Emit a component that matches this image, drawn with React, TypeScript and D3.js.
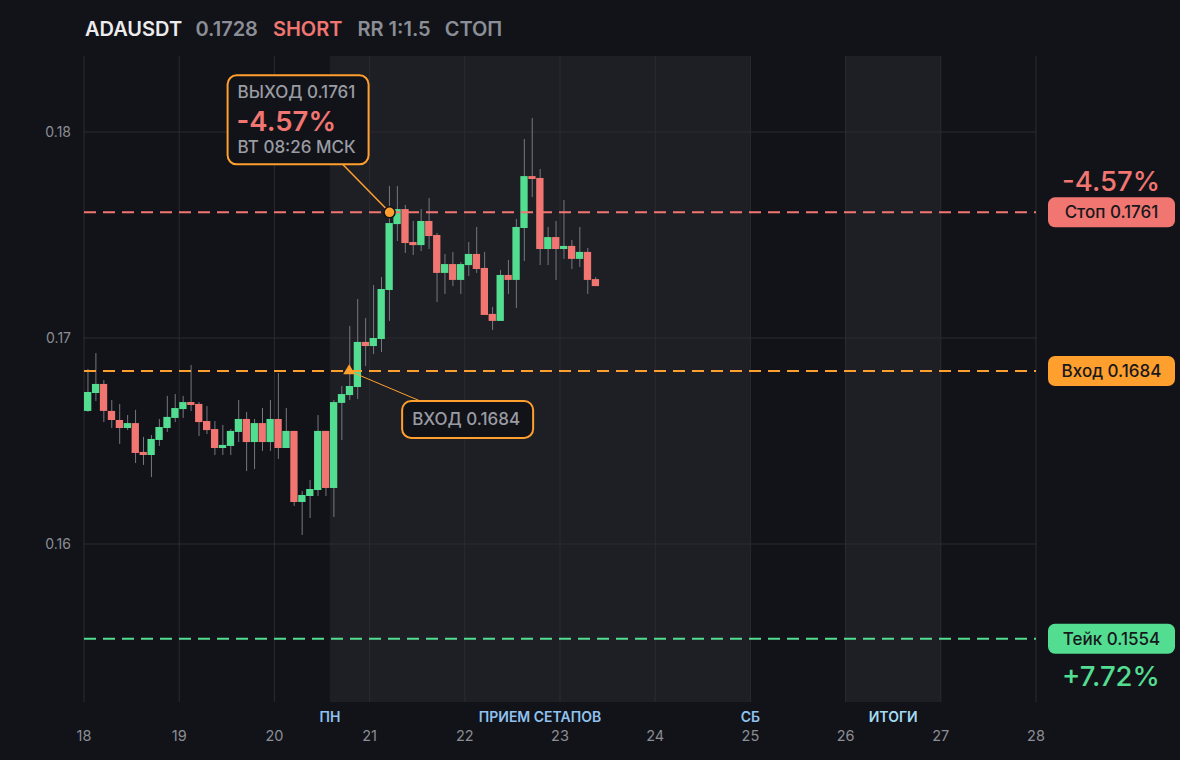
import React from 'react'
import * as d3 from 'd3'

// header
const symbol = 'ADAUSDT'
const lastPrice = '0.1728'
const side = 'SHORT'
const rrText = 'RR 1:1.5'
const statusText = 'СТОП'

// 2h candles starting on the 18th
const startDay = 18
const candlesPerDay = 12
const opens = [
  0.16646, 0.16733, 0.16777, 0.16646, 0.16602, 0.16563, 0.16587, 0.16447, 0.16432, 0.16505,
  0.16563, 0.16612, 0.16655, 0.16689, 0.1668, 0.16597, 0.16558, 0.16466, 0.16476, 0.16544,
  0.16607, 0.16495, 0.16587, 0.16495, 0.16607, 0.16466, 0.16549, 0.16204, 0.16233, 0.16262,
  0.16549, 0.16272, 0.16685, 0.16723, 0.16762, 0.16981, 0.16961, 0.16995, 0.17233, 0.17553,
  0.17626, 0.17466, 0.17451, 0.17568, 0.175, 0.17316, 0.17359, 0.17282, 0.17354, 0.17408,
  0.1734, 0.17117, 0.17083, 0.17306, 0.17282, 0.17534, 0.17786, 0.17777, 0.17432, 0.1749,
  0.17432, 0.17447, 0.17384, 0.17418, 0.17286,
]
const highs = [
  0.1685, 0.16927, 0.16796, 0.16699, 0.1668, 0.16626, 0.16651, 0.1652, 0.16529, 0.16607,
  0.16719, 0.16728, 0.16719, 0.16869, 0.16689, 0.1667, 0.16597, 0.16578, 0.16558, 0.16699,
  0.16641, 0.16607, 0.1666, 0.16699, 0.1683, 0.1666, 0.16549, 0.16257, 0.16311, 0.16626,
  0.16549, 0.16699, 0.16767, 0.17058, 0.17189, 0.17097, 0.17257, 0.17296, 0.17738, 0.17738,
  0.17646, 0.17568, 0.17626, 0.1768, 0.1751, 0.17408, 0.17418, 0.17369, 0.17466, 0.17539,
  0.17418, 0.17151, 0.1733, 0.17379, 0.17578, 0.17966, 0.18068, 0.1782, 0.17539, 0.17568,
  0.1767, 0.17476, 0.17539, 0.17437, 0.17296,
]
const lows = [
  0.16641, 0.16694, 0.16592, 0.16563, 0.16486, 0.16553, 0.16393, 0.16384, 0.16325, 0.16476,
  0.16544, 0.16592, 0.16612, 0.16646, 0.16524, 0.16534, 0.16432, 0.16432, 0.16432, 0.16495,
  0.16354, 0.16364, 0.16452, 0.16452, 0.16413, 0.16466, 0.16185, 0.16044, 0.16126, 0.16233,
  0.16233, 0.16131, 0.16505, 0.16699, 0.16704, 0.16864, 0.16922, 0.16932, 0.17083, 0.17471,
  0.17413, 0.17403, 0.17422, 0.17432, 0.17175, 0.17214, 0.17252, 0.17214, 0.17301, 0.17316,
  0.17112, 0.17039, 0.17083, 0.17214, 0.17146, 0.17374, 0.17684, 0.17354, 0.17354, 0.17282,
  0.17384, 0.17335, 0.17345, 0.17214, 0.17252,
]
const closes = [
  0.16738, 0.16777, 0.16646, 0.16602, 0.16563, 0.16587, 0.16442, 0.16432, 0.1651, 0.16568,
  0.16617, 0.1666, 0.16689, 0.16675, 0.16592, 0.16553, 0.16466, 0.16481, 0.16549, 0.16607,
  0.16495, 0.16587, 0.16495, 0.16607, 0.16466, 0.16549, 0.16204, 0.16238, 0.16267, 0.16549,
  0.16272, 0.16689, 0.16728, 0.16767, 0.16981, 0.16961, 0.17, 0.17238, 0.17558, 0.17626,
  0.17461, 0.17451, 0.17568, 0.17495, 0.17316, 0.17359, 0.17282, 0.17359, 0.17408, 0.17335,
  0.17112, 0.17083, 0.17306, 0.17282, 0.17539, 0.17786, 0.17772, 0.17432, 0.1749, 0.17432,
  0.17447, 0.17384, 0.17418, 0.17282, 0.17252,
]

// axes
const dayTicks = [18, 19, 20, 21, 22, 23, 24, 25, 26, 27, 28]
const priceTicks = [0.16, 0.17, 0.18]
const priceDomain = [0.15233, 0.18369]

// sessions
const shadeStarts = [20.583, 26]
const shadeEnds = [25, 27]
const sessionLabels = ['ПН', 'ПРИЕМ СЕТАПОВ', 'СБ', 'ИТОГИ']
const sessionDays = [20.583, 22.79, 25, 26.5]

// trade
const entryPrice = 0.1684
const stopPrice = 0.1761
const takePrice = 0.1554
const entryDay = 20.785
const exitDay = 21.21
const stopPct = '-4.57%'
const takePct = '+7.72%'
const exitTimeText = 'ВТ 08:26 МСК'

const W = 1180
const H = 760
const BG = '#121318'
const SHADE = '#1e1f24'
const GRID = '#2a2b31'
const TXT = '#8b8e96'
const GREEN = '#52dd91'
const RED = '#f17571'
const ORANGE = '#ff9f2e'
const FONT = "Inter, 'Noto Sans', sans-serif"

export default function App() {
  const x = d3.scaleLinear().domain([18, 28]).range([84, 1036])
  const y = d3.scaleLinear().domain(priceDomain).range([702, 56])
  const step = x(startDay + 1 / candlesPerDay) - x(startDay)
  const [plotTop, plotBottom] = [y.range()[1], y.range()[0]]

  const candles = opens.map((o, i) => {
    const t = startDay + i / candlesPerDay
    const c = closes[i]
    const up = c >= o
    const x0 = x(t)
    const top = y(Math.max(o, c))
    const h = Math.max(2, y(Math.min(o, c)) - top)
    return (
      <g key={i}>
        <line x1={x0 + step / 2} x2={x0 + step / 2} y1={y(highs[i])} y2={y(lows[i])} stroke="#767880" strokeWidth={1} />
        <rect x={x0} y={top} width={step - 0.6} height={h} fill={up ? GREEN : RED} />
      </g>
    )
  })

  const levels = [
    { price: stopPrice, color: RED, label: `Стоп ${stopPrice}` },
    { price: entryPrice, color: ORANGE, label: `Вход ${entryPrice}` },
    { price: takePrice, color: GREEN, label: `Тейк ${takePrice}` },
  ]

  const dotX = x(exitDay)
  const dotY = y(stopPrice)
  const triX = x(entryDay)
  const triY = y(entryPrice)
  const exitBox = { x: dotX - 162, y: dotY - 137, w: 141, h: 89 }
  const entryBox = { x: triX + 53, y: triY + 30, w: 131, h: 37 }

  return (
    <svg width={W} height={H} style={{ position: 'absolute', left: 0, top: 0 }} fontFamily={FONT}>
      <rect width={W} height={H} fill={BG} />

      {shadeStarts.map((s, i) => (
        <rect key={i} x={x(s)} y={plotTop} width={x(shadeEnds[i]) - x(s)} height={plotBottom - plotTop} fill={SHADE} />
      ))}

      {dayTicks.map((d) => (
        <line key={d} x1={x(d)} x2={x(d)} y1={plotTop} y2={plotBottom} stroke={GRID} strokeWidth={1} />
      ))}
      {priceTicks.map((p) => (
        <g key={p}>
          <line x1={x(18)} x2={x(28)} y1={y(p)} y2={y(p)} stroke={GRID} strokeWidth={1} />
          <text x={71} y={y(p) + 5} textAnchor="end" fontSize={14} fill={TXT}>{p}</text>
        </g>
      ))}

      {dayTicks.map((d) => (
        <text key={d} x={x(d)} y={741} textAnchor="middle" fontSize={14.5} fill={TXT}>{d}</text>
      ))}
      {sessionLabels.map((s, i) => (
        <text key={s} x={x(sessionDays[i])} y={722} textAnchor="middle" fontSize={14} fontWeight={600}
          fill={s === 'ИТОГИ' ? '#a3dcf3' : '#8fc2f0'}>{s}</text>
      ))}

      {candles}

      {levels.map((l) => (
        <g key={l.label}>
          <line x1={x(18)} x2={x(28)} y1={y(l.price)} y2={y(l.price)} stroke={l.color} strokeWidth={2} strokeDasharray="12 7" />
          <rect x={1048} y={y(l.price) - 15} width={127} height={30} rx={7} fill={l.color} />
          <text x={1111.5} y={y(l.price) + 6} textAnchor="middle" fontSize={17} fontWeight={500} fill="#17181c">{l.label}</text>
        </g>
      ))}
      <text x={1111} y={y(stopPrice) - 21} textAnchor="middle" fontSize={27.5} fontWeight={500} fill={RED}>{stopPct}</text>
      <text x={1111} y={y(takePrice) + 47} textAnchor="middle" fontSize={27.5} fontWeight={500} fill={GREEN}>{takePct}</text>

      {/* exit callout */}
      <line x1={exitBox.x + 115} y1={exitBox.y + exitBox.h} x2={dotX} y2={dotY} stroke={ORANGE} strokeWidth={1.5} />
      <rect x={exitBox.x} y={exitBox.y} width={exitBox.w} height={exitBox.h} rx={9} fill={BG} stroke={ORANGE} strokeWidth={2} />
      <text x={exitBox.x + 10} y={exitBox.y + 23} fontSize={17} fontWeight={500} fill="#9a9ca4">{`ВЫХОД ${stopPrice}`}</text>
      <text x={exitBox.x + 9} y={exitBox.y + 56} fontSize={27.5} fontWeight={600} fill={RED}>{stopPct}</text>
      <text x={exitBox.x + 10} y={exitBox.y + 78} fontSize={17} fontWeight={500} fill="#9a9ca4">{exitTimeText}</text>
      <circle cx={dotX} cy={dotY} r={5.5} fill={ORANGE} stroke={BG} strokeWidth={1.5} />

      {/* entry callout */}
      <line x1={triX} y1={triY} x2={entryBox.x + 18} y2={entryBox.y} stroke={ORANGE} strokeWidth={1} />
      <rect x={entryBox.x} y={entryBox.y} width={entryBox.w} height={entryBox.h} rx={9} fill={BG} stroke={ORANGE} strokeWidth={2} />
      <text x={entryBox.x + 10} y={entryBox.y + 24} fontSize={17} fontWeight={500} fill="#9a9ca4">{`ВХОД ${entryPrice}`}</text>
      <path d={d3.symbol(d3.symbolTriangle, 60)() || ''} transform={`translate(${triX},${triY})`} fill={ORANGE} />

      <text x={85} y={36} fontSize={20} fontWeight={600}>
        <tspan fill="#ececee">{symbol}</tspan>
        <tspan dx={14} fill={TXT}>{lastPrice}</tspan>
        <tspan dx={15} fill={RED}>{side}</tspan>
        <tspan dx={15} fill={TXT}>{rrText}</tspan>
        <tspan dx={14} fill={TXT}>{statusText}</tspan>
      </text>
    </svg>
  )
}
